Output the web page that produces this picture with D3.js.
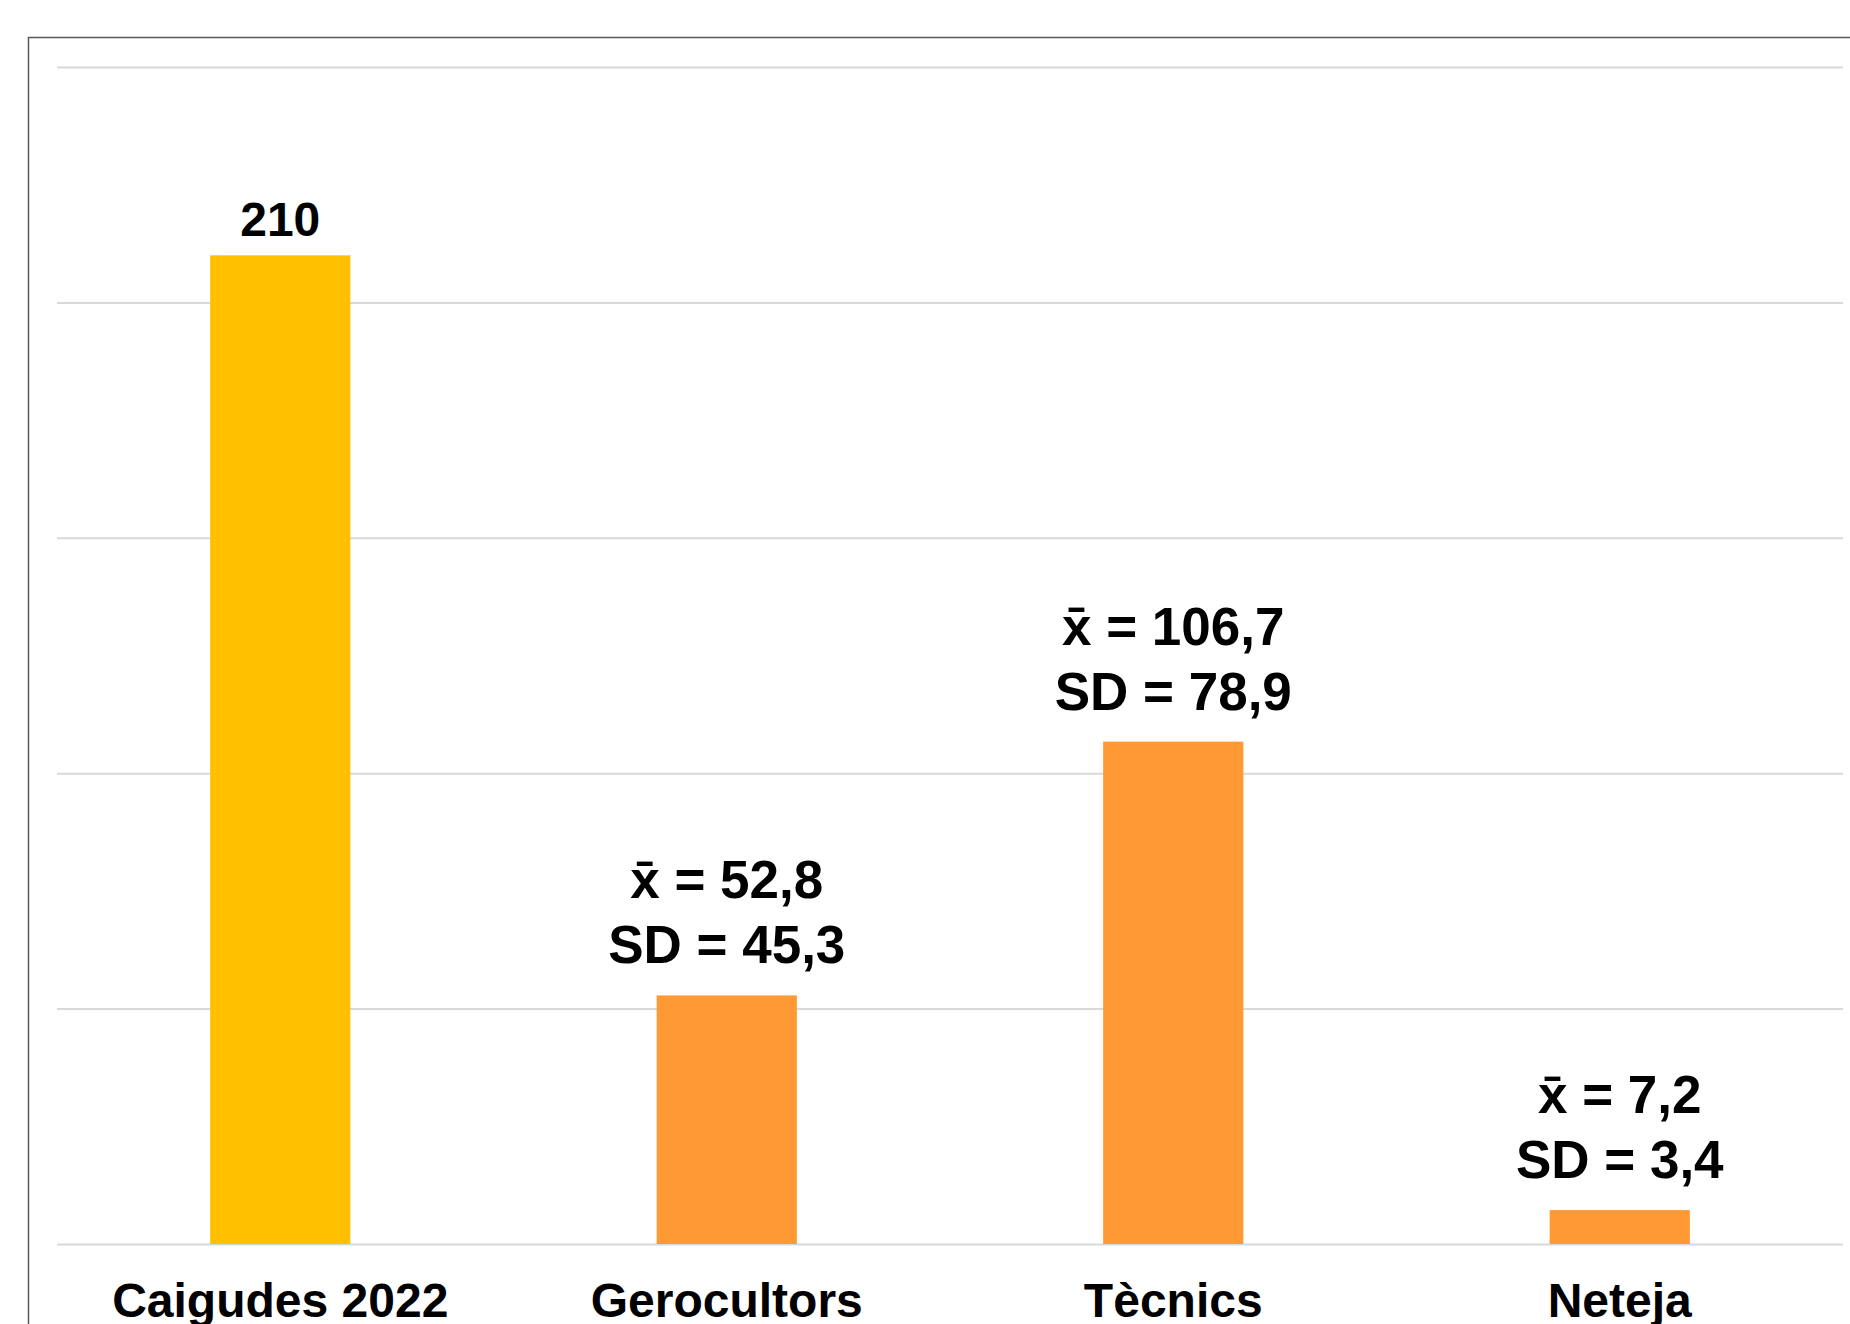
<!doctype html>
<html>
<head>
<meta charset='utf-8'>
<script type='text/javascript' src='https://d3js.org/d3.v7.min.js'></script>
<style>
body { margin: 0; background: #fff; }
text { font-family: 'Liberation Sans', Arial, sans-serif; font-weight: bold; }
</style>
</head>
<body>
<script>
var width = 1850, height = 1324;
// data
var categories = ['Caigudes 2022', 'Gerocultors', 'Tècnics', 'Neteja'];
var values = [210, 52.8, 106.7, 7.2];
var sds = [null, 45.3, 78.9, 3.4];
var barColors = ['#FFC000', '#FF9933', '#FF9933', '#FF9933'];
var yTicks = [0, 50, 100, 150, 200, 250];

var fmt = function(v) { return String(v).replace('.', ','); };

var svg = d3.select('body').append('svg').attr('width', width).attr('height', height);

// outer frame (runs off the right and bottom edges)
svg.append('rect')
 .attr('x', 28.5).attr('y', 37.5)
 .attr('width', 1900).attr('height', 1400)
 .attr('fill', 'none').attr('stroke', '#595959').attr('stroke-width', 1.5);

var x = d3.scaleBand().domain(categories).range([57, 1843])
 .paddingInner(0.686).paddingOuter(0.343);
var y = d3.scaleLinear().domain([0, 250]).range([1244, 67]);

// gridlines
svg.append('g')
 .attr('transform', 'translate(57,0)')
 .call(d3.axisLeft(y).tickValues(yTicks).tickSize(-(1843 - 57)).tickFormat(''))
 .call(function(g) { g.select('.domain').remove(); })
 .selectAll('.tick line').attr('stroke', '#d9d9d9').attr('stroke-width', 2);

// bars
var rows = categories.map(function(c, i) { return {cat: c, v: values[i], sd: sds[i], col: barColors[i]}; });
svg.selectAll('rect.bar').data(rows).join('rect')
 .attr('class', 'bar')
 .attr('x', function(d) { return x(d.cat); })
 .attr('y', function(d) { return y(d.v); })
 .attr('width', x.bandwidth())
 .attr('height', function(d) { return y(0) - y(d.v); })
 .attr('fill', function(d) { return d.col; });

// value labels
rows.forEach(function(d) {
  var cx = x(d.cat) + x.bandwidth() / 2;
  if (d.sd === null) {
    svg.append('text').attr('x', cx).attr('y', y(d.v) - 19)
     .attr('text-anchor', 'middle').attr('font-size', 48).text(fmt(d.v));
  } else {
    svg.append('text').attr('x', cx).attr('y', y(d.v) - 32 - 65)
     .attr('text-anchor', 'middle').attr('font-size', 53).text('x\u0304 = ' + fmt(d.v));
    svg.append('text').attr('x', cx).attr('y', y(d.v) - 32)
     .attr('text-anchor', 'middle').attr('font-size', 53).text('SD = ' + fmt(d.sd));
  }
});

// category axis labels
svg.selectAll('text.cat').data(categories).join('text')
 .attr('class', 'cat')
 .attr('x', function(d) { return x(d) + x.bandwidth() / 2; })
 .attr('y', 1317)
 .attr('text-anchor', 'middle').attr('font-size', 48)
 .text(function(d) { return d; });
</script>
</body>
</html>
